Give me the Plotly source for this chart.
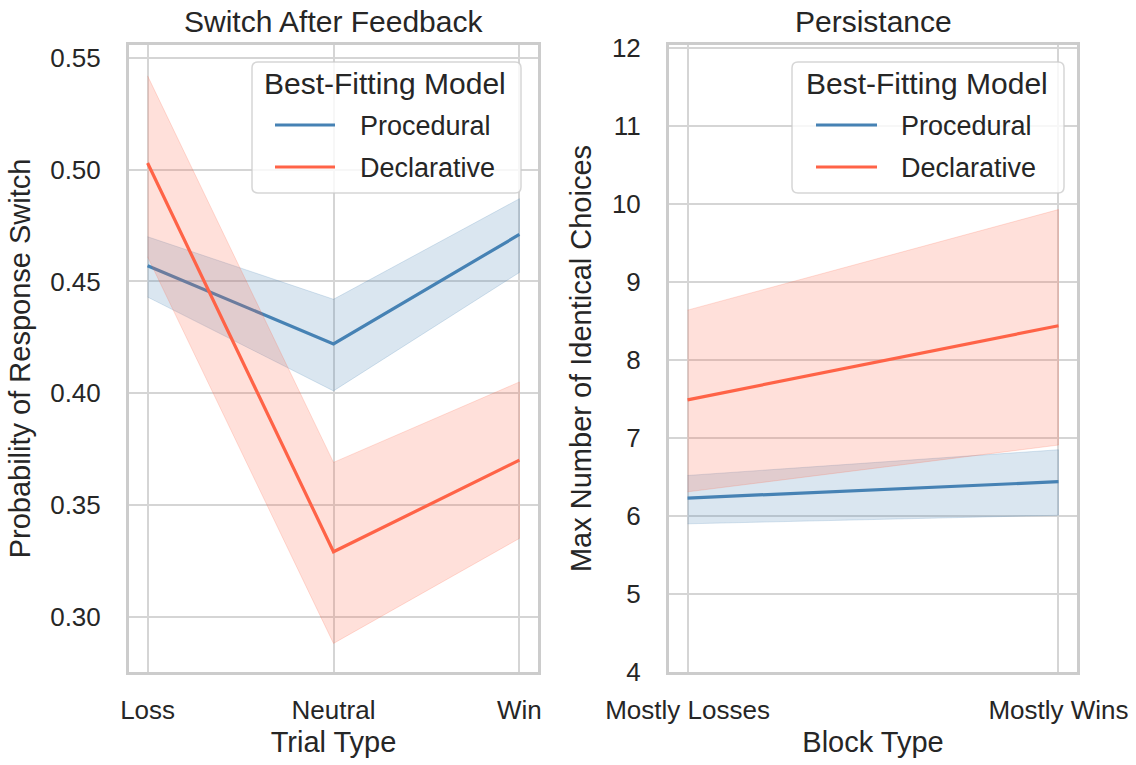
import plotly.graph_objects as go
from plotly.subplots import make_subplots

# ---- data -------------------------------------------------------------
trial_types = ["Loss", "Neutral", "Win"]
block_types = ["Mostly Losses", "Mostly Wins"]
model_names = ["Procedural", "Declarative"]

# probability of switching response after feedback (mean and 95% CI)
switch_procedural = [0.457, 0.422, 0.471]
switch_procedural_lo = [0.443, 0.401, 0.454]
switch_procedural_hi = [0.470, 0.442, 0.487]
switch_declarative = [0.503, 0.329, 0.370]
switch_declarative_lo = [0.461, 0.288, 0.335]
switch_declarative_hi = [0.542, 0.369, 0.405]

# max run of identical choices per block type (mean and 95% CI)
persist_procedural = [6.23, 6.44]
persist_procedural_lo = [5.90, 6.01]
persist_procedural_hi = [6.52, 6.85]
persist_declarative = [7.49, 8.44]
persist_declarative_lo = [6.31, 6.91]
persist_declarative_hi = [8.64, 9.93]

# ---- style ------------------------------------------------------------
W, H = 1136, 765
FONT = "Liberation Sans, Arial, Helvetica, sans-serif"
TEXT = "#262626"
COLORS = {"Procedural": (70, 130, 180), "Declarative": (255, 99, 71)}
GRID = "#d5d5d5"
SPINE = "#cccccc"


def rgb(c, a=1.0):
    return f"rgba({c[0]},{c[1]},{c[2]},{a})"


def px(x):
    return x / W


def py(y):
    return 1 - y / H


fig = make_subplots(rows=1, cols=2)


def add_series(col, cats, mean, lo, hi, name):
    c = COLORS[name]
    # confidence band
    fig.add_trace(
        go.Scatter(
            x=list(cats) + list(cats)[::-1],
            y=list(hi) + list(lo)[::-1],
            fill="toself",
            fillcolor=rgb(c, 0.2),
            line=dict(color=rgb(c, 0.2), width=1),
            mode="lines",
            hoverinfo="skip",
            showlegend=False,
        ),
        row=1, col=col,
    )
    # mean line
    fig.add_trace(
        go.Scatter(
            x=cats, y=mean, mode="lines", name=name,
            line=dict(color=rgb(c), width=3.2),
            showlegend=False,
        ),
        row=1, col=col,
    )


add_series(1, trial_types, switch_procedural, switch_procedural_lo,
           switch_procedural_hi, "Procedural")
add_series(1, trial_types, switch_declarative, switch_declarative_lo,
           switch_declarative_hi, "Declarative")
add_series(2, block_types, persist_procedural, persist_procedural_lo,
           persist_procedural_hi, "Procedural")
add_series(2, block_types, persist_declarative, persist_declarative_lo,
           persist_declarative_hi, "Declarative")

axis_common = dict(
    automargin=False,
    showline=True, mirror=True, linecolor=SPINE, linewidth=3,
    showgrid=True, gridcolor=GRID, gridwidth=2, zeroline=False,
    ticks="outside", tickcolor="rgba(0,0,0,0)",
    tickfont=dict(family=FONT, size=26, color=TEXT),
    title_font=dict(family=FONT, size=29, color=TEXT),
)

fig.update_xaxes(**axis_common)
fig.update_yaxes(**axis_common)

fig.update_layout(
    xaxis=dict(domain=[px(129), px(538)], type="category",
               range=[-0.1, 2.1], ticklen=13,
               title=dict(text="Trial Type", standoff=8)),
    yaxis=dict(domain=[py(672), py(45)], range=[0.2752, 0.5558],
               tickvals=[0.30, 0.35, 0.40, 0.45, 0.50, 0.55],
               tickformat=".2f", ticklen=20,
               title=dict(text="Probability of Response Switch", standoff=12)),
    xaxis2=dict(domain=[px(669), px(1077)], type="category",
                range=[-0.05, 1.05], ticklen=13,
                title=dict(text="Block Type", standoff=8)),
    yaxis2=dict(domain=[py(672), py(45)], range=[4, 12.04],
                tickvals=list(range(4, 13)), ticklen=20,
                title=dict(text="Max Number of Identical Choices", standoff=12)),
)

# panel titles
for cx, text in [((129 + 538) / 2, "Switch After Feedback"),
                 ((669 + 1077) / 2, "Persistance")]:
    fig.add_annotation(
        x=px(cx), y=py(21), xref="paper", yref="paper",
        text=text, showarrow=False, xanchor="center", yanchor="middle",
        font=dict(family=FONT, size=30, color=TEXT),
    )


# legend boxes, one per panel
def rounded_rect(x0, y0, x1, y1, r):
    X0, X1 = px(x0), px(x1)
    Y0, Y1 = py(y0), py(y1)
    rx, ry = r / W, r / H
    return (f"M{X0 + rx},{Y0} L{X1 - rx},{Y0} Q{X1},{Y0} {X1},{Y0 - ry} "
            f"L{X1},{Y1 + ry} Q{X1},{Y1} {X1 - rx},{Y1} "
            f"L{X0 + rx},{Y1} Q{X0},{Y1} {X0},{Y1 + ry} "
            f"L{X0},{Y0 - ry} Q{X0},{Y0} {X0 + rx},{Y0} Z")


def draw_legend(box, title_x, line_x0, line_x1, text_x, rows_y):
    x0, y0, x1, y1 = box
    fig.add_shape(
        type="path", path=rounded_rect(x0, y0, x1, y1, 6),
        xref="paper", yref="paper", layer="above",
        fillcolor="rgba(255,255,255,0.8)",
        line=dict(color="rgba(204,204,204,0.8)", width=1.5),
    )
    fig.add_annotation(
        x=px(title_x), y=py(83), xref="paper", yref="paper",
        text="Best-Fitting Model", showarrow=False,
        xanchor="center", yanchor="middle",
        font=dict(family=FONT, size=30, color=TEXT),
    )
    for name, ry in zip(model_names, rows_y):
        fig.add_shape(
            type="line", xref="paper", yref="paper", layer="above",
            x0=px(line_x0), x1=px(line_x1), y0=py(ry), y1=py(ry),
            line=dict(color=rgb(COLORS[name]), width=3.2),
        )
        fig.add_annotation(
            x=px(text_x), y=py(ry + 1), xref="paper", yref="paper",
            text=name, showarrow=False, xanchor="left", yanchor="middle",
            font=dict(family=FONT, size=27, color=TEXT),
        )


draw_legend((252, 62, 521, 193), 385, 275, 335, 358, [125, 167])
draw_legend((792, 62, 1064, 193), 927, 816, 877, 899, [125, 167])

fig.update_layout(
    template="none",
    width=W, height=H,
    margin=dict(l=0, r=0, t=0, b=0, autoexpand=False),
    paper_bgcolor="white", plot_bgcolor="white",
    showlegend=False,
    font=dict(family=FONT, color=TEXT),
)

fig.write_html("out.html")
